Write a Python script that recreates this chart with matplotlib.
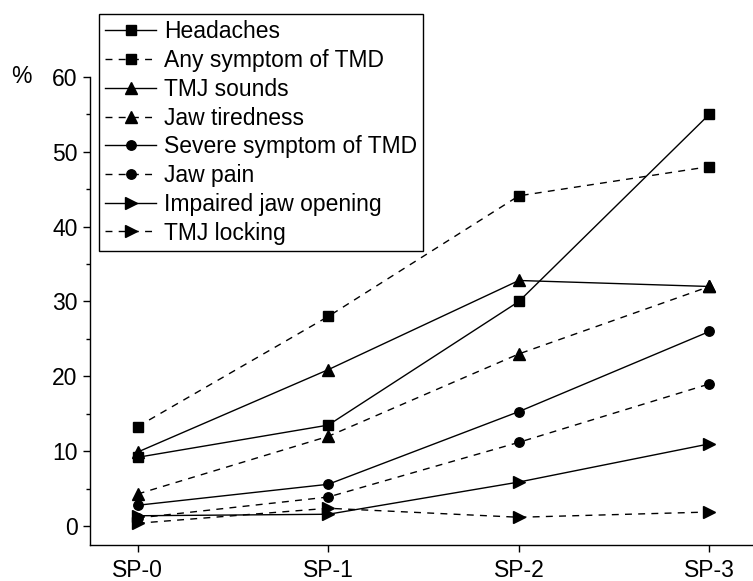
import matplotlib
matplotlib.use('Agg')
import matplotlib.pyplot as plt

plt.rcParams['font.family'] = ['Liberation Sans', 'DejaVu Sans']

periods = ["SP-0", "SP-1", "SP-2", "SP-3"]

headaches = [9.2, 13.5, 30.0, 55.0]
any_tmd = [13.3, 28.0, 44.1, 48.0]
tmj_sounds = [9.9, 20.9, 32.8, 32.0]
jaw_tiredness = [4.3, 12.0, 23.0, 32.0]
severe_tmd = [2.8, 5.6, 15.3, 26.0]
jaw_pain = [1.1, 3.9, 11.2, 19.0]
impaired_opening = [1.4, 1.6, 5.9, 11.0]
tmj_locking = [0.4, 2.4, 1.2, 1.9]

series = [
    ("Headaches", headaches, 's', '-'),
    ("Any symptom of TMD", any_tmd, 's', '--'),
    ("TMJ sounds", tmj_sounds, '^', '-'),
    ("Jaw tiredness", jaw_tiredness, '^', '--'),
    ("Severe symptom of TMD", severe_tmd, 'o', '-'),
    ("Jaw pain", jaw_pain, 'o', '--'),
    ("Impaired jaw opening", impaired_opening, '>', '-'),
    ("TMJ locking", tmj_locking, '>', '--'),
]

FS = 16.5

fig = plt.figure(figsize=(7.53, 5.81), dpi=100)
ax = fig.add_axes([0.1195, 0.062, 0.886, 0.806])

x = list(range(len(periods)))
for name, vals, mk, ls in series:
    if ls == '--':
        style = (0, (5, 4.5))
    else:
        style = '-'
    ms = 8.5 if mk in ('^', '>') else 6.8
    ax.plot(x, vals, linestyle=style, color='black', lw=1.0, marker=mk,
            markersize=ms, markerfacecolor='black', markeredgecolor='black',
            label=name)

ax.set_xlim(-0.25, 3.25)
ax.set_ylim(-2.5, 60)
ax.set_xticks(x)
ax.set_xticklabels(periods)
ax.set_yticks([0, 10, 20, 30, 40, 50, 60])
ax.set_yticks([5, 15, 25, 35, 45, 55], minor=True)

for s in ("top", "right"):
    ax.spines[s].set_visible(False)
for s in ("left", "bottom"):
    ax.spines[s].set_linewidth(1.0)

ax.tick_params(axis='both', which='major', direction='out', length=5,
               width=1.0, labelsize=FS, colors='black')
ax.tick_params(axis='y', which='minor', direction='out', length=3, width=1.0)
ax.tick_params(axis='x', pad=5)
ax.tick_params(axis='y', pad=4)

fig.text(11 / 753, ax.transData.transform((0, 60))[1] / fig.bbox.height, "%",
         ha='left', va='center', fontsize=FS)

leg = ax.legend(loc='upper left', bbox_to_anchor=(99 / 753, 1 - 14 / 581),
                bbox_transform=fig.transFigure, fontsize=FS, frameon=True,
                fancybox=False, framealpha=1, edgecolor='black',
                handlelength=2.2, handletextpad=0.35, labelspacing=0.25,
                borderpad=0.28, borderaxespad=0)
leg.get_frame().set_linewidth(1.0)

fig.savefig("out.png", dpi=100)
